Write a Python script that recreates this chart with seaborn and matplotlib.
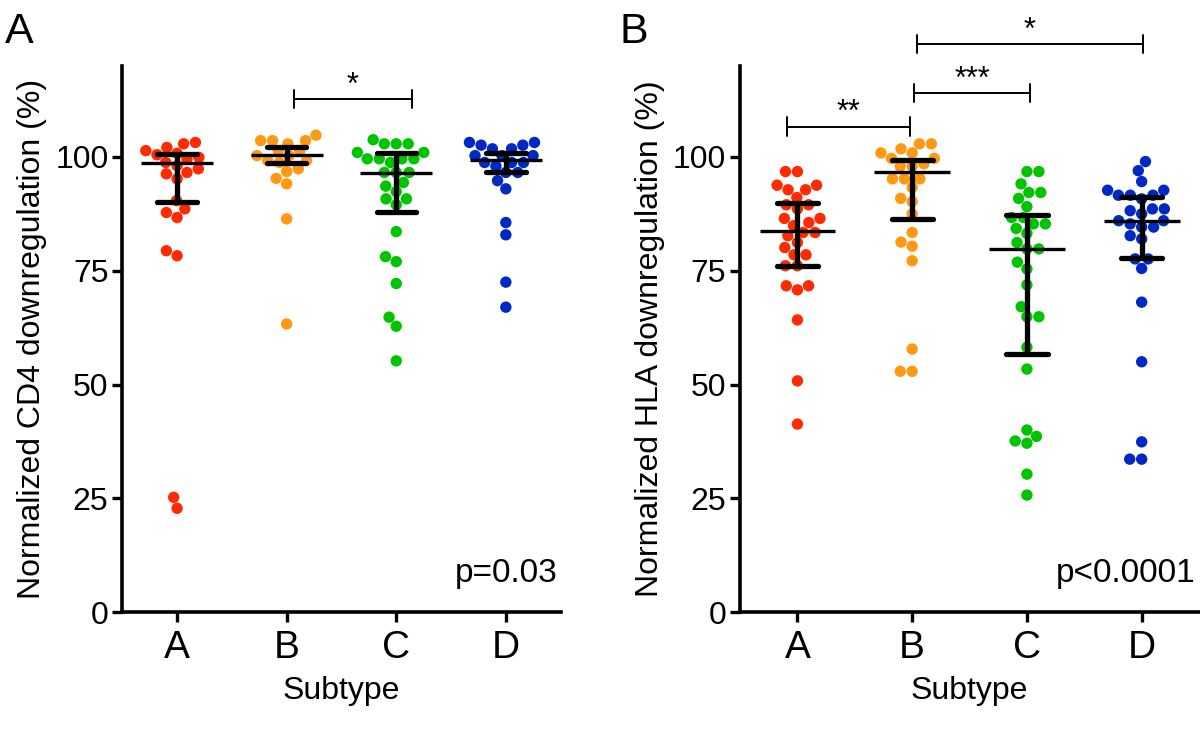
import numpy as np
import pandas as pd
import matplotlib
matplotlib.use("Agg")
import matplotlib.pyplot as plt
import seaborn as sns

# ---------------- data ----------------
subtypes = ["A", "B", "C", "D"]

cd4_A = [103.2, 102.9, 102.1, 101.4, 100.8, 100.5, 99.9, 99.5, 98.8, 98.1, 97.4,
         96.6, 96.3, 95.2, 90.4, 88.6, 87.8, 86.7, 79.4, 78.3, 25.2, 22.8]
cd4_B = [104.8, 103.6, 103.6, 103.6, 102.9, 101.4, 101.4, 100.3, 100.3, 99.2,
         99.2, 98.8, 97.4, 96.8, 95.3, 94.1, 86.4, 63.3]
cd4_C = [103.8, 102.9, 102.9, 102.9, 101.0, 101.0, 99.6, 99.6, 99.6, 99.6, 98.8,
         96.6, 96.6, 96.6, 94.4, 93.6, 92.4, 90.8, 90.8, 89.5, 83.6, 78.1, 77.0,
         72.2, 64.8, 62.8, 55.2]
cd4_D = [103.2, 103.2, 102.6, 102.6, 101.8, 101.8, 100.3, 100.3, 100.3, 98.8,
         98.8, 98.8, 98.0, 96.6, 96.6, 94.8, 93.0, 85.6, 82.9, 72.5, 67.0]

hla_A = [96.8, 96.8, 93.8, 93.8, 92.8, 92.8, 91.1, 89.5, 89.5, 88.6, 86.5, 86.5,
         85.6, 84.9, 83.4, 83.4, 82.7, 81.2, 80.1, 78.5, 78.5, 76.1, 76.1, 71.7,
         71.7, 70.8, 64.2, 50.8, 41.3]
hla_B = [102.9, 102.9, 101.8, 100.9, 100.9, 99.7, 99.7, 98.5, 98.0, 98.0, 95.2,
         95.2, 95.2, 93.3, 90.9, 90.2, 87.5, 83.4, 81.3, 80.4, 77.2, 57.8, 52.9, 52.9]
hla_C = [96.8, 96.8, 94.1, 92.2, 92.2, 90.9, 89.1, 86.7, 86.7, 85.3, 85.3, 84.3,
         83.2, 81.2, 79.8, 79.8, 76.9, 75.4, 71.9, 67.1, 64.9, 64.9, 58.2, 53.4,
         40.0, 38.6, 37.6, 37.1, 30.3, 25.7]
hla_D = [99.0, 97.0, 94.6, 92.7, 92.7, 91.6, 91.6, 91.6, 90.8, 88.6, 88.6, 88.2,
         87.5, 86.0, 86.0, 85.3, 84.6, 84.6, 82.7, 82.0, 77.6, 77.6, 75.5, 68.1,
         55.0, 37.4, 33.6, 33.6]

# median and interquartile range shown by the black bars
cd4_median = [98.6, 100.4, 96.4, 99.4]
cd4_q1 = [90.2, 98.7, 88.0, 96.8]
cd4_q3 = [100.7, 102.1, 100.9, 100.9]
hla_median = [83.8, 96.8, 79.8, 86.0]
hla_q1 = [76.1, 86.4, 56.7, 77.7]
hla_q3 = [89.9, 99.3, 87.3, 91.1]

yticks = [0, 25, 50, 75, 100]
cd4_label = "Normalized CD4 downregulation (%)"
hla_label = "Normalized HLA downregulation (%)"
cd4_p = "p=0.03"
hla_p = "p<0.0001"
# significance brackets: (group from, group to, stars)
cd4_sig = [("B", "C", "*")]
hla_sig = [("A", "B", "**"), ("B", "C", "***"), ("B", "D", "*")]

# ---------------- style ----------------
palette = {"A": "#FF2A00", "B": "#FF9912", "C": "#00C400", "D": "#0028C4"}
sns.set_style("ticks")
plt.rcParams["font.family"] = ["Liberation Sans", "DejaVu Sans"]
for k in ("text.color", "axes.labelcolor", "xtick.color", "ytick.color",
          "axes.edgecolor"):
    plt.rcParams[k] = "black"

fig = plt.figure(figsize=(12, 7.3), dpi=100)
axA = fig.add_axes([0.1019, 0.1616, 0.3653, 0.748])
axB = fig.add_axes([0.6167, 0.1616, 0.3825, 0.748])

# bracket geometry (heights in data units, small horizontal nudges)
cd4_sig_style = [dict(y=112.8, dl=0.07, dr=0.14, sy=115.6, sx=0.0)]
hla_sig_style = [dict(y=106.7, dl=-0.09, dr=-0.02, sy=109.6, sx=0.0),
                 dict(y=114.1, dl=0.02, dr=0.03, sy=117.0, sx=0.0),
                 dict(y=124.8, dl=0.04, dr=0.01, sy=127.7, sx=0.0)]


def panel(ax, groups, med, q1, q3, ylabel, ptext, sig, sig_style):
    df = pd.DataFrame({
        "Subtype": np.repeat(subtypes, [len(g) for g in groups]),
        "value": np.concatenate([np.asarray(g, float) for g in groups]),
    })
    sns.swarmplot(data=df, x="Subtype", y="value", hue="Subtype", order=subtypes,
                  hue_order=subtypes, palette=palette, size=8.2, linewidth=0,
                  legend=False, ax=ax, zorder=2, warn_thresh=1.0)
    pos = np.arange(len(subtypes))
    ax.hlines(med, pos - 0.33, pos + 0.33, color="black", lw=2.4, zorder=4)
    ax.vlines(pos, q1, q3, color="black", lw=3.8, zorder=4)
    for arr in (q1, q3):
        for p, v in zip(pos, arr):
            ax.plot([p - 0.18, p + 0.18], [v, v], color="black", lw=3.8,
                    solid_capstyle="round", zorder=4)
    ax.set_xlim(-0.5, 3.5)
    ax.set_ylim(0, 120)
    ax.set_yticks(yticks)
    ax.set_xlabel("Subtype", fontsize=23, labelpad=7)
    ax.set_ylabel(ylabel, fontsize=23, labelpad=6)
    ax.tick_params(axis="x", labelsize=28, width=2.4, length=7, pad=6)
    ax.tick_params(axis="y", labelsize=23, width=2.4, length=7, pad=3)
    for s in ("top", "right"):
        ax.spines[s].set_visible(False)
    for s in ("left", "bottom"):
        ax.spines[s].set_linewidth(2.6)
    ax.text(3.47, 8.5, ptext, ha="right", va="center", fontsize=24)
    idx = {c: i for i, c in enumerate(subtypes)}
    for (g1, g2, stars), st in zip(sig, sig_style):
        x1 = idx[g1] + st["dl"]
        x2 = idx[g2] + st["dr"]
        y = st["y"]
        ax.plot([x1, x2], [y, y], color="black", lw=1.4, clip_on=False)
        ax.plot([x1, x1], [y - 2, y + 2], color="black", lw=1.4, clip_on=False)
        ax.plot([x2, x2], [y - 2, y + 2], color="black", lw=1.4, clip_on=False)
        ax.text((x1 + x2) / 2 + st["sx"], st["sy"], stars, ha="center",
                va="center", fontsize=22, clip_on=False)


panel(axA, [cd4_A, cd4_B, cd4_C, cd4_D], cd4_median, cd4_q1, cd4_q3,
      cd4_label, cd4_p, cd4_sig, cd4_sig_style)
panel(axB, [hla_A, hla_B, hla_C, hla_D], hla_median, hla_q1, hla_q3,
      hla_label, hla_p, hla_sig, hla_sig_style)

fig.text(0.004, 1 - 12 / 730, "A", ha="left", va="top", fontsize=31)
fig.text(0.516, 1 - 12 / 730, "B", ha="left", va="top", fontsize=31)

fig.savefig("out.png", dpi=100)
